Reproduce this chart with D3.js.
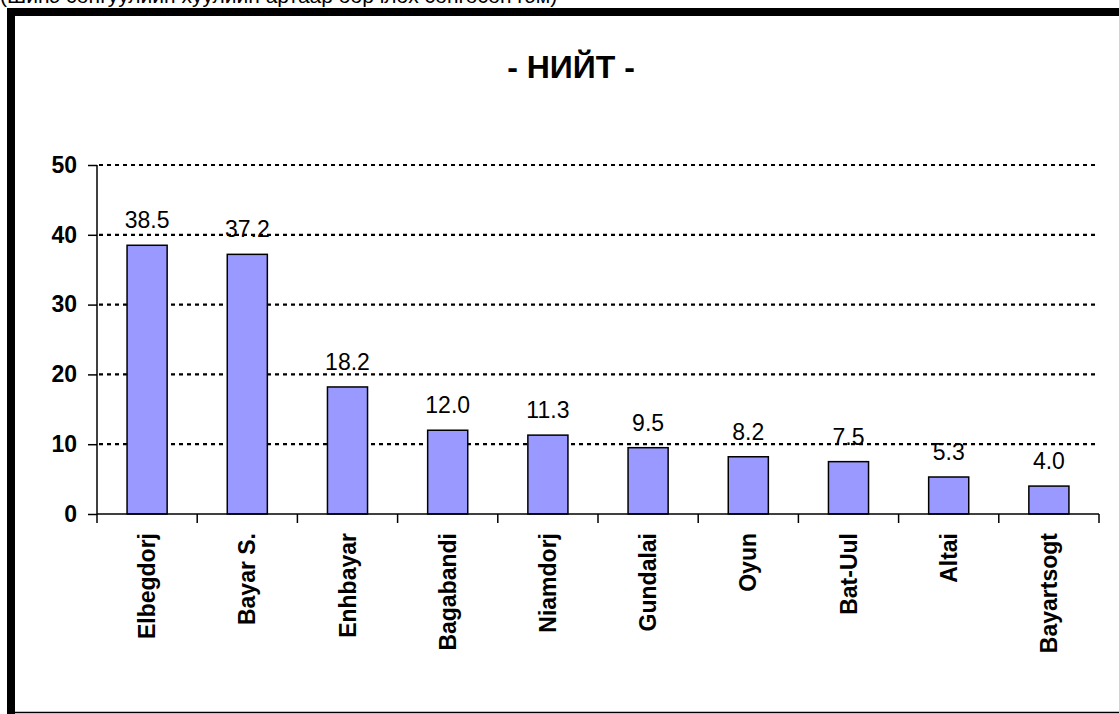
<!DOCTYPE html>
<html>
<head>
<meta charset="utf-8">
<script src="https://cdn.jsdelivr.net/npm/d3@7"></script>
<style>
  body { margin: 0; background: #fff; }
  svg { display: block; font-family: "Liberation Sans", Arial, sans-serif; }
</style>
</head>
<body>
<div id="chart"></div>
<script>
var candidates = ["Elbegdorj", "Bayar S.", "Enhbayar", "Bagabandi", "Niamdorj",
  "Gundalai", "Oyun", "Bat-Uul", "Altai", "Bayartsogt"];
var percents = [38.5, 37.2, 18.2, 12.0, 11.3, 9.5, 8.2, 7.5, 5.3, 4.0];
var yTicks = [0, 10, 20, 30, 40, 50];
var title = "- НИЙТ -";
var note = "(Шинэ сонгуулийн хуулийн артаар өөрчлөх сонгосон гэм)";

var figDims = {x: 1119, y: 714};
var plot = {left: 97, right: 1099, top: 165, bottom: 514};

var svg = d3.select("#chart")
  .append("svg")
  .attr("width", figDims.x)
  .attr("height", figDims.y);

// note, cut off at the top of the page like in the original
svg.append("text")
  .attr("x", 0)
  .attr("y", 3)
  .attr("font-size", 21)
  .attr("fill", "#000")
  .text(note);

// chart frame (thick top/left, thin bottom)
svg.append("rect")
  .attr("x", 7).attr("y", 8)
  .attr("width", figDims.x - 7).attr("height", 8)
  .attr("fill", "#000");
svg.append("rect")
  .attr("x", 7).attr("y", 8)
  .attr("width", 8).attr("height", figDims.y - 8)
  .attr("fill", "#000");
svg.append("line")
  .attr("x1", 15).attr("x2", figDims.x)
  .attr("y1", 712.5).attr("y2", 712.5)
  .attr("stroke", "#000")
  .attr("stroke-width", 1.5);

svg.append("text")
  .attr("x", 571)
  .attr("y", 78)
  .attr("text-anchor", "middle")
  .attr("font-size", 32)
  .attr("font-weight", "bold")
  .text(title);

var x = d3.scaleBand()
  .domain(candidates)
  .range([plot.left, plot.right])
  .paddingInner(0)
  .paddingOuter(0);

var y = d3.scaleLinear()
  .domain([0, 50])
  .range([plot.bottom, plot.top]);

var barWidth = x.bandwidth() * 0.4;

// gridlines
svg.append("g")
  .selectAll("line.grid")
  .data(yTicks.filter(d => d > 0))
  .enter().append("line")
  .attr("class", "grid")
  .attr("x1", plot.left + 2)
  .attr("x2", plot.right)
  .attr("y1", d => y(d))
  .attr("y2", d => y(d))
  .attr("stroke", "#000")
  .attr("stroke-width", 2.2)
  .attr("stroke-dasharray", "4,4");

// bars
svg.append("g")
  .selectAll("rect.bar")
  .data(percents)
  .enter().append("rect")
  .attr("class", "bar")
  .attr("x", (d, i) => x(candidates[i]) + (x.bandwidth() - barWidth) / 2)
  .attr("y", d => y(d))
  .attr("width", barWidth)
  .attr("height", d => y(0) - y(d))
  .attr("fill", "#9999ff")
  .attr("stroke", "#000")
  .attr("stroke-width", 1.5);

// value labels
svg.append("g")
  .selectAll("text.val")
  .data(percents)
  .enter().append("text")
  .attr("class", "val")
  .attr("x", (d, i) => x(candidates[i]) + x.bandwidth() / 2)
  .attr("y", d => y(d) - 17)
  .attr("text-anchor", "middle")
  .attr("font-size", 23)
  .text(d => d.toFixed(1));

// y axis
var yAxis = svg.append("g")
  .attr("transform", "translate(" + plot.left + ",0)")
  .call(d3.axisLeft(y).tickValues(yTicks).tickSize(9).tickPadding(11).tickFormat(d3.format("d")));
yAxis.select(".domain").attr("stroke-width", 1.5).attr("d", "M0," + plot.top + "V" + plot.bottom);
yAxis.selectAll(".tick line").attr("stroke-width", 1.5);
yAxis.selectAll(".tick text")
  .attr("font-size", 23)
  .attr("font-weight", "bold")
  .attr("font-family", "Liberation Sans, Arial, sans-serif")
  .attr("fill", "#000");

// x axis: ticks at category boundaries
var xAxisG = svg.append("g")
  .attr("transform", "translate(0," + plot.bottom + ")");
xAxisG.append("line")
  .attr("x1", plot.left).attr("x2", plot.right)
  .attr("y1", 0).attr("y2", 0)
  .attr("stroke", "#000")
  .attr("stroke-width", 1.5);
var bounds = candidates.map(c => x(c)).concat([x(candidates[candidates.length - 1]) + x.bandwidth()]);
xAxisG.selectAll("line.xtick")
  .data(bounds)
  .enter().append("line")
  .attr("class", "xtick")
  .attr("x1", d => d).attr("x2", d => d)
  .attr("y1", 0).attr("y2", 9)
  .attr("stroke", "#000")
  .attr("stroke-width", 1.5);
xAxisG.selectAll("text.cat")
  .data(candidates)
  .enter().append("text")
  .attr("class", "cat")
  .attr("transform", d => "translate(" + (x(d) + x.bandwidth() / 2) + ",19) rotate(-90)")
  .attr("dy", "0.35em")
  .attr("text-anchor", "end")
  .attr("font-size", 23)
  .attr("font-weight", "bold")
  .text(d => d);
</script>
</body>
</html>
